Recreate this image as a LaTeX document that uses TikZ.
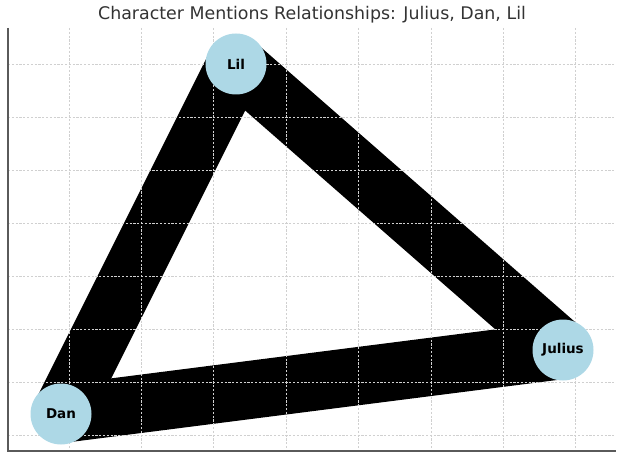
\documentclass[tikz,border=0pt]{standalone}
\usepackage{fontspec}
\setmainfont{DejaVu Sans}
\definecolor{nodeblue}{HTML}{ADD8E6}
\definecolor{titlegray}{HTML}{333333}
\definecolor{spinegray}{HTML}{5A5A5A}
\definecolor{gridgray}{HTML}{D0D0D0}

\begin{document}
\begin{tikzpicture}[x=1bp, y=-1bp]
\useasboundingbox (0, 0) rectangle (624, 459);
\coordinate (V_Lil) at (236, 64);
\coordinate (V_Dan) at (61, 414);
\coordinate (V_Julius) at (563, 350);


\tikzset{EdgeStyle/.style = {line width=58bp, line cap=butt, line join=miter, black} }

\draw[EdgeStyle] (V_Julius) -- (V_Dan);
\draw[EdgeStyle] (V_Julius) -- (V_Lil);
\draw[EdgeStyle] (V_Dan) -- (V_Lil);


\tikzset{GridStyle/.style = {gridgray, line width=0.8bp, dash pattern=on 2.2bp off 1.6bp} }

\foreach \gx in {69, 141.4, 213.8, 286.2, 358.6, 431, 503.4, 575.8}
  \draw[GridStyle] (\gx, 28) -- (\gx, 451);
\foreach \gy in {64, 117, 170, 223, 276, 329, 382, 435}
  \draw[GridStyle] (8, \gy) -- (616, \gy);

\draw[spinegray, line width=1.4bp] (8, 28) -- (8, 451) -- (616, 451);

\node[titlegray, font=\fontsize{17.4bp}{21bp}\selectfont] (Title) at (312, 15) {Character Mentions Relationships: Julius, Dan, Lil};


\tikzset{VertexStyle/.style = {
 shape = circle,
 fill = nodeblue,
 text = black,
 font = \bfseries\fontsize{13.5bp}{16bp}\selectfont,
 inner sep = 0pt,
 outer sep = 0pt,
 minimum size = 61bp} }

\node[VertexStyle] (Lil) at (V_Lil) {Lil};
\node[VertexStyle] (Dan) at (V_Dan) {Dan};
\node[VertexStyle] (Julius) at (V_Julius) {Julius};

\end{tikzpicture}
\end{document}
